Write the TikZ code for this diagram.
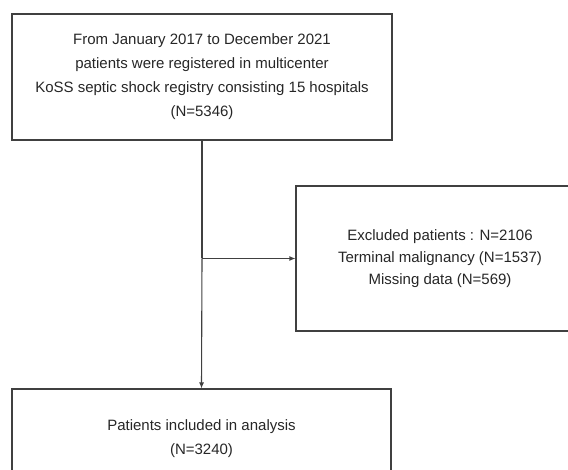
\documentclass[tikz,border=0pt]{standalone}
\usepackage{fontspec}
\setmainfont{Liberation Sans}
\usetikzlibrary{arrows.meta}

\begin{document}
\begin{tikzpicture}[x=1pt, y=-1pt,
    box/.style={draw=black!75, line width=1.1pt, align=center, text=black!85,
      font=\fontsize{15}{24}\selectfont, inner sep=0pt},
    link/.style={draw=black!75, line width=1.1pt},
    arr/.style={link, -{Latex[length=6pt,width=5pt]}}]
  \useasboundingbox (0, 0) rectangle (568, 470);

  \node[box, minimum width=380pt, minimum height=126pt] (registry) at (202, 77)
    {From January 2017 to December 2021\\
     patients were registered in multicenter\\
     KoSS septic shock registry consisting 15 hospitals\\
     (N=5346)};
  \node[box, font=\fontsize{15}{22}\selectfont, minimum width=288pt, minimum height=145pt] (excluded) at (440, 258.5)
    {Excluded patients : N=2106\\
     Terminal malignancy (N=1537)\\
     Missing data (N=569)};
  \node[box, minimum width=379pt, minimum height=100pt] (included) at (201.5, 439)
    {Patients included in analysis\\
     (N=3240)};

  \coordinate (split) at (registry.south |- excluded.west);
  \draw[link] (registry.south) -- (split);
  \draw[arr] (split) -- (excluded.west);
  \draw[arr] (split) -- (included.north);
\end{tikzpicture}
\end{document}
